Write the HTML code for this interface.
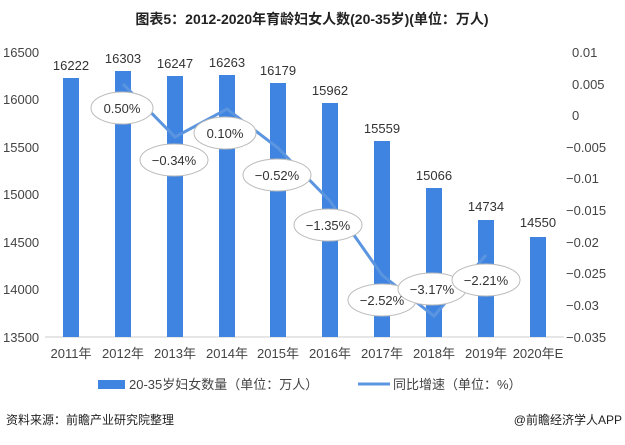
<!DOCTYPE html>
<html><head><meta charset="utf-8"><style>
body{margin:0;background:#fff;}
svg text{font-family:"Liberation Sans","Noto Sans CJK SC",sans-serif;}
</style></head><body>
<svg width="625" height="440" viewBox="0 0 625 440" xmlns="http://www.w3.org/2000/svg">
<rect width="625" height="440" fill="#fff"/>
<text x="312" y="24" text-anchor="middle" font-size="14" font-weight="bold" fill="#222">图表5：2012-2020年育龄妇女人数(20-35岁)(单位：万人)</text>
<g font-size="13" fill="#444">
<text x="3" y="57">16500</text><text x="3" y="104">16000</text><text x="3" y="152">15500</text>
<text x="3" y="199">15000</text><text x="3" y="247">14500</text><text x="3" y="294">14000</text><text x="3" y="342">13500</text>
</g>
<g font-size="13" fill="#444">
<text x="572" y="57">0.01</text><text x="572" y="89">0.005</text><text x="572" y="120">0</text>
<text x="566" y="152">−0.005</text><text x="566" y="183">−0.01</text><text x="566" y="215">−0.015</text>
<text x="566" y="247">−0.02</text><text x="566" y="278">−0.025</text><text x="566" y="310">−0.03</text><text x="566" y="342">−0.035</text>
</g>
<line x1="45" y1="337" x2="564" y2="337" stroke="#ccc"/>
<g fill="#3f84e0">
<rect x="63" y="78" width="16" height="259"/>
<rect x="115" y="71" width="16" height="266"/>
<rect x="167" y="76" width="16" height="261"/>
<rect x="219" y="75" width="16" height="262"/>
<rect x="270" y="83" width="16" height="254"/>
<rect x="322" y="103" width="16" height="234"/>
<rect x="374" y="141" width="16" height="196"/>
<rect x="426" y="188" width="16" height="149"/>
<rect x="478" y="220" width="16" height="117"/>
<rect x="530" y="237" width="16" height="100"/>
</g>
<g font-size="13" fill="#333" text-anchor="middle">
<text x="71" y="70">16222</text><text x="123" y="63">16303</text><text x="175" y="68">16247</text>
<text x="227" y="67">16263</text><text x="278" y="75">16179</text><text x="330" y="95">15962</text>
<text x="382" y="133">15559</text><text x="434" y="180">15066</text><text x="486" y="211">14734</text><text x="538" y="227">14550</text>
</g>
<polyline fill="none" stroke="#5b95e0" stroke-width="3" points="123,84 175,137 227,109 278,148 330,201 382,275 434,316 486,255"/>
<g fill="#fff" stroke="#bbb" stroke-width="1">
<ellipse cx="122" cy="108" rx="31" ry="16"/>
<ellipse cx="174" cy="160" rx="34" ry="16"/>
<ellipse cx="225" cy="133" rx="31" ry="16"/>
<ellipse cx="277" cy="175" rx="34" ry="16"/>
<ellipse cx="328" cy="225" rx="34" ry="16"/>
<ellipse cx="382" cy="300" rx="34" ry="16"/>
<ellipse cx="432" cy="289" rx="34" ry="16"/>
<ellipse cx="486" cy="280" rx="34" ry="16"/>
</g>
<g font-size="13" fill="#333" text-anchor="middle">
<text x="122" y="113">0.50%</text><text x="174" y="165">−0.34%</text><text x="225" y="138">0.10%</text>
<text x="277" y="180">−0.52%</text><text x="328" y="230">−1.35%</text><text x="382" y="305">−2.52%</text>
<text x="432" y="294">−3.17%</text><text x="486" y="285">−2.21%</text>
</g>
<g font-size="13" fill="#444" text-anchor="middle">
<text x="71" y="358">2011年</text><text x="123" y="358">2012年</text><text x="175" y="358">2013年</text>
<text x="227" y="358">2014年</text><text x="278" y="358">2015年</text><text x="330" y="358">2016年</text>
<text x="382" y="358">2017年</text><text x="434" y="358">2018年</text><text x="486" y="358">2019年</text><text x="538" y="358">2020年E</text>
</g>
<rect x="98" y="380" width="27" height="9" fill="#3f84e0"/>
<text x="129" y="389" font-size="13" fill="#444">20-35岁妇女数量（单位：万人）</text>
<line x1="358" y1="384" x2="390" y2="384" stroke="#5b95e0" stroke-width="3"/>
<text x="393" y="389" font-size="13" fill="#444">同比增速（单位：%）</text>
<text x="6" y="424" font-size="12" fill="#222">资料来源：前瞻产业研究院整理</text>
<text x="622" y="424" font-size="12" fill="#222" text-anchor="end">@前瞻经济学人APP</text>
</svg>
</body></html>
